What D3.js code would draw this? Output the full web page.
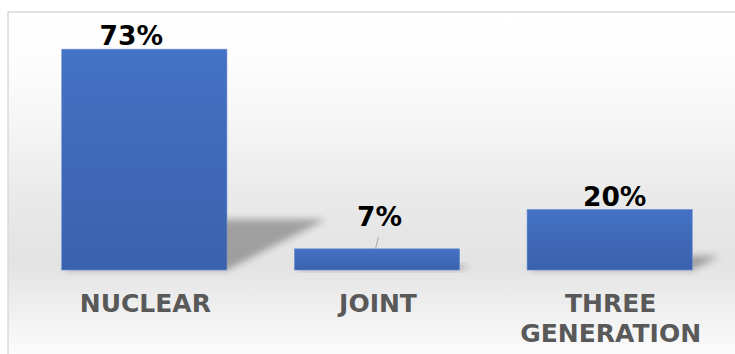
<!DOCTYPE html>
<html>
<head>
<meta charset="utf-8">
<script src="https://cdn.jsdelivr.net/npm/d3@7"></script>
<style>
  body { margin: 0; background: #fff; }
  svg { display: block; }
</style>
</head>
<body>
<script>
// family type shares
var categories = ["NUCLEAR", "JOINT", "THREE GENERATION"];
var values = [73, 7, 20];
var labels = ["73%", "7%", "20%"];

var width = 735, height = 354;

var svg = d3.select("body").append("svg")
    .attr("width", width)
    .attr("height", height);

var defs = svg.append("defs");

// plot background, light grey band near the floor
var bg = defs.append("linearGradient")
    .attr("id", "bg")
    .attr("gradientUnits", "userSpaceOnUse")
    .attr("x1", 0).attr("y1", 12).attr("x2", 0).attr("y2", 354);
[[12, "#ffffff"], [60, "#fdfdfd"], [120, "#f6f6f6"], [200, "#e9e9e9"],
 [265, "#e3e3e3"], [300, "#ededed"], [354, "#fbfbfb"]].forEach(function (s) {
    bg.append("stop").attr("offset", (s[0] - 12) / 342).attr("stop-color", s[1]);
});

var barGrad = defs.append("linearGradient")
    .attr("id", "barGrad")
    .attr("x1", 0).attr("y1", 0).attr("x2", 0).attr("y2", 1);
barGrad.append("stop").attr("offset", 0).attr("stop-color", "#4472c4");
barGrad.append("stop").attr("offset", 1).attr("stop-color", "#3a61ad");

defs.append("filter")
    .attr("id", "blur")
    .attr("x", "-20%").attr("y", "-50%").attr("width", "140%").attr("height", "200%")
    .append("feGaussianBlur").attr("stdDeviation", 3.5);

svg.append("rect")
    .attr("x", 8).attr("y", 12)
    .attr("width", width).attr("height", height)
    .attr("fill", "url(#bg)")
    .attr("stroke", "#d9d9d9")
    .attr("stroke-width", 1.5);

var xScale = d3.scaleBand()
    .domain(categories)
    .range([28, 726])
    .paddingInner(0.29)
    .paddingOuter(0.145);

var yScale = d3.scaleLinear()
    .domain([0, 80])
    .range([270, 28]);

var data = categories.map(function (c, i) {
    return { cat: c, value: values[i], label: labels[i] };
});

// perspective shadows behind the bars
svg.append("g").selectAll("path")
    .data(data)
    .enter().append("path")
    .attr("d", function (d) {
        var x0 = xScale(d.cat), x1 = x0 + xScale.bandwidth();
        var base = yScale(0), h = base - yScale(d.value);
        var dx = h * 0.45, dy = h * 0.23;
        return "M" + x0 + "," + base + "L" + x1 + "," + base +
            "L" + (x1 + dx) + "," + (base - dy) + "L" + (x0 + dx) + "," + (base - dy) + "Z";
    })
    .attr("fill", "#000")
    .attr("opacity", 0.3)
    .attr("filter", "url(#blur)");

svg.append("g").selectAll("rect")
    .data(data)
    .enter().append("rect")
    .attr("x", function (d) { return xScale(d.cat); })
    .attr("y", function (d) { return yScale(d.value); })
    .attr("width", xScale.bandwidth())
    .attr("height", function (d) { return yScale(0) - yScale(d.value); })
    .attr("fill", "url(#barGrad)")
    .attr("stroke", "#6a8fd3")
    .attr("stroke-width", 0.6);

// data labels were nudged by hand in the original; JOINT's was dragged up with a leader line
var lifted = { "JOINT": 19 };
var nudge = { "NUCLEAR": -13, "JOINT": 2.5, "THREE GENERATION": 5 };

svg.append("g").selectAll("line")
    .data(data.filter(function (d) { return lifted[d.cat]; }))
    .enter().append("line")
    .attr("x1", function (d) { return xScale(d.cat) + xScale.bandwidth() / 2 + 1.5; })
    .attr("y1", function (d) { return yScale(d.value) - lifted[d.cat] + 7; })
    .attr("x2", function (d) { return xScale(d.cat) + xScale.bandwidth() / 2 - 1.5; })
    .attr("y2", function (d) { return yScale(d.value); })
    .attr("stroke", "#a6a6a6")
    .attr("stroke-width", 1);

svg.append("g").selectAll("text")
    .data(data)
    .enter().append("text")
    .attr("x", function (d) { return xScale(d.cat) + xScale.bandwidth() / 2 + (nudge[d.cat] || 0); })
    .attr("y", function (d) { return yScale(d.value) - 4 - (lifted[d.cat] || 0); })
    .attr("text-anchor", "middle")
    .style("font-family", "'DejaVu Sans', sans-serif")
    .style("font-weight", "bold")
    .style("font-size", "26.5px")
    .attr("fill", "#000")
    .text(function (d) { return d.label; });

// category labels, the long one wraps onto two lines
var catText = svg.append("g").selectAll("text")
    .data(categories)
    .enter().append("text")
    .attr("y", 312)
    .attr("text-anchor", "middle")
    .style("font-family", "'DejaVu Sans', sans-serif")
    .style("font-weight", "bold")
    .style("font-size", "25px")
    .attr("fill", "#595959");

catText.each(function (c) {
    var cx = xScale(c) + xScale.bandwidth() / 2 + 1;
    d3.select(this).selectAll("tspan")
        .data(c.split(" ").length > 1 ? c.split(" ") : [c])
        .enter().append("tspan")
        .attr("x", cx)
        .attr("dy", function (p, i) { return i ? 30 : 0; })
        .text(function (p) { return p; });
});
</script>
</body>
</html>
